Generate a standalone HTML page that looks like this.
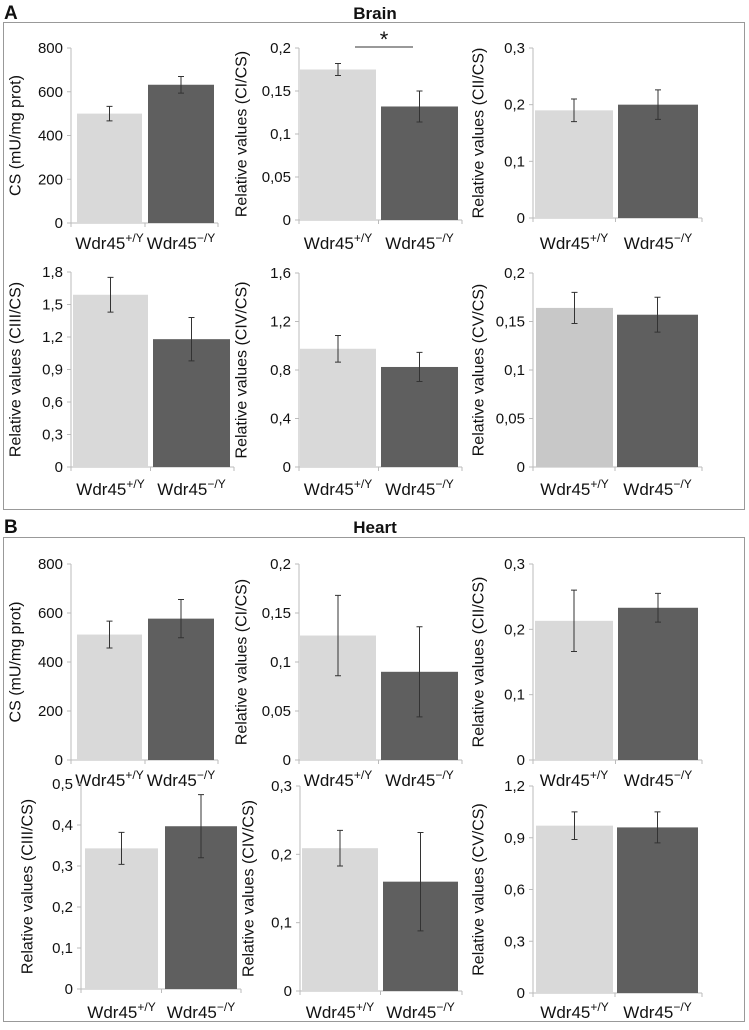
<!DOCTYPE html>
<html><head><meta charset="utf-8">
<style>
body{margin:0;background:#fff;font-family:"Liberation Sans","DejaVu Sans",sans-serif;}
svg text{font-family:"Liberation Sans","DejaVu Sans",sans-serif;fill:#111;}
</style></head>
<body>
<svg id="fig" width="749" height="1025" viewBox="0 0 749 1025" xmlns="http://www.w3.org/2000/svg">
<text x="4" y="19" font-size="19" font-weight="bold">A</text>
<text x="375" y="19" font-size="17" font-weight="bold" text-anchor="middle">Brain</text>
<rect x="3.5" y="22.5" width="741" height="487" fill="none" stroke="#999"/>
<text x="4" y="533" font-size="19" font-weight="bold">B</text>
<text x="375" y="533" font-size="17" font-weight="bold" text-anchor="middle">Heart</text>
<rect x="3.5" y="537.5" width="741" height="484" fill="none" stroke="#999"/>
<g id="charts"></g>
</svg>
<script>
const groups = ["Wdr45+/Y", "Wdr45-/Y"];
const brainCS = [500, 632];       const brainCSErr = [33, 38];
const brainCI = [0.175, 0.132];   const brainCIErr = [0.007, 0.018];
const brainCII = [0.19, 0.2];     const brainCIIErr = [0.02, 0.026];
const brainCIII = [1.59, 1.18];   const brainCIIIErr = [0.16, 0.2];
const brainCIV = [0.975, 0.825];  const brainCIVErr = [0.11, 0.12];
const brainCV = [0.164, 0.157];   const brainCVErr = [0.016, 0.018];
const heartCS = [512, 577];       const heartCSErr = [55, 78];
const heartCI = [0.127, 0.09];    const heartCIErr = [0.041, 0.046];
const heartCII = [0.213, 0.233];  const heartCIIErr = [0.047, 0.022];
const heartCIII = [0.343, 0.397]; const heartCIIIErr = [0.039, 0.077];
const heartCIV = [0.209, 0.16];   const heartCIVErr = [0.026, 0.072];
const heartCV = [0.97, 0.96];     const heartCVErr = [0.08, 0.09];
const ticksCS = ["0","200","400","600","800"];
const ticksCI = ["0","0,05","0,1","0,15","0,2"];
const ticksCII = ["0","0,1","0,2","0,3"];
const ticksBrainCIII = ["0","0,3","0,6","0,9","1,2","1,5","1,8"];
const ticksBrainCIV = ["0","0,4","0,8","1,2","1,6"];
const ticksBrainCV = ["0","0,05","0,1","0,15","0,2"];
const ticksHeartCIII = ["0","0,1","0,2","0,3","0,4","0,5"];
const ticksHeartCIV = ["0","0,1","0,2","0,3"];
const ticksHeartCV = ["0","0,3","0,6","0,9","1,2"];

const NS = "http://www.w3.org/2000/svg";
const root = document.getElementById("charts");
function mk(tag, attrs, parent){const e=document.createElementNS(NS,tag);for(const k in attrs)e.setAttribute(k,attrs[k]);(parent||root).appendChild(e);return e;}

const panels = [
 {id:"brain-cs",vals:brainCS,errs:brainCSErr,ticks:ticksCS,title:"CS (mU/mg prot)",ax:71,top:48,bot:223,b1:[77,142],b2:[148,214],tx:16,lab:241,light:"#d9d9d9"},
 {id:"brain-ci",vals:brainCI,errs:brainCIErr,ticks:ticksCI,title:"Relative values (CI/CS)",ax:299,top:48,bot:220,b1:[300,376],b2:[381,458],tx:242,lab:241,light:"#d9d9d9",star:true},
 {id:"brain-cii",vals:brainCII,errs:brainCIIErr,ticks:ticksCII,title:"Relative values (CII/CS)",ax:533,top:48,bot:218,b1:[535,613],b2:[618,698],tx:479,lab:241,light:"#d9d9d9"},
 {id:"brain-ciii",vals:brainCIII,errs:brainCIIIErr,ticks:ticksBrainCIII,title:"Relative values (CIII/CS)",ax:71,top:272,bot:467,b1:[73,148],b2:[153,230],tx:16,lab:487,light:"#d9d9d9"},
 {id:"brain-civ",vals:brainCIV,errs:brainCIVErr,ticks:ticksBrainCIV,title:"Relative values (CIV/CS)",ax:299,top:273,bot:467,b1:[300,376],b2:[381,458],tx:242,lab:487,light:"#d9d9d9"},
 {id:"brain-cv",vals:brainCV,errs:brainCVErr,ticks:ticksBrainCV,title:"Relative values (CV/CS)",ax:533,top:273,bot:467,b1:[536,613],b2:[617,698],tx:479,lab:487,light:"#c8c8c8"},
 {id:"heart-cs",vals:heartCS,errs:heartCSErr,ticks:ticksCS,title:"CS (mU/mg prot)",ax:71,top:564,bot:760,b1:[77,142],b2:[148,214],tx:16,lab:778,light:"#d9d9d9"},
 {id:"heart-ci",vals:heartCI,errs:heartCIErr,ticks:ticksCI,title:"Relative values (CI/CS)",ax:299,top:564,bot:760,b1:[300,376],b2:[381,458],tx:242,lab:778,light:"#d9d9d9"},
 {id:"heart-cii",vals:heartCII,errs:heartCIIErr,ticks:ticksCII,title:"Relative values (CII/CS)",ax:533,top:564,bot:760,b1:[535,613],b2:[618,698],tx:479,lab:778,light:"#d9d9d9"},
 {id:"heart-ciii",vals:heartCIII,errs:heartCIIIErr,ticks:ticksHeartCIII,title:"Relative values (CIII/CS)",ax:81,top:784,bot:989,b1:[85,158],b2:[165,237],tx:28,lab:1010,light:"#d9d9d9"},
 {id:"heart-civ",vals:heartCIV,errs:heartCIVErr,ticks:ticksHeartCIV,title:"Relative values (CIV/CS)",ax:300,top:786,bot:991,b1:[302,378],b2:[383,458],tx:249,lab:1010,light:"#d9d9d9"},
 {id:"heart-cv",vals:heartCV,errs:heartCVErr,ticks:ticksHeartCV,title:"Relative values (CV/CS)",ax:533,top:786,bot:993,b1:[536,613],b2:[617,698],tx:479,lab:1010,light:"#d9d9d9"}
];

panels.forEach(p=>{
  const g = mk("g",{});
  
  
  const maxV = parseFloat(p.ticks[p.ticks.length-1].replace(",", "."));
  const y = v => p.bot - (v/maxV)*(p.bot-p.top);
  const right = p.b2[1]+4;
  const ya = mk("line",{x1:p.ax,y1:p.top,x2:p.ax,y2:p.bot,stroke:"#bbb"},g);
  
  
  const xa = mk("line",{x1:p.ax-4,y1:p.bot,x2:right,y2:p.bot,stroke:"#bbb"},g);
  
  
  [p.ax, (p.b1[1]+p.b2[0])/2, right].forEach(tx=>mk("line",{x1:tx,y1:p.bot,x2:tx,y2:p.bot+4,stroke:"#bbb"},g));
  p.ticks.forEach(t=>{
    const v = parseFloat(t.replace(",", "."));
    const yy = y(v);
    mk("line",{x1:p.ax-4,y1:yy,x2:p.ax,y2:yy,stroke:"#bbb"},g);
    const tl = mk("text",{x:p.ax-8,y:yy+5,"font-size":"15","text-anchor":"end"},g);
    tl.textContent = t;
    
    
  });
  const yt = mk("text",{x:p.tx,y:(p.top+p.bot)/2,"font-size":"16","text-anchor":"middle",transform:`rotate(-90 ${p.tx} ${(p.top+p.bot)/2})`,"dominant-baseline":"central"},g);
  yt.textContent = p.title;
  
  
  [p.b1,p.b2].forEach((b,i)=>{
    const v = p.vals[i], e = p.errs[i];
    const bar = mk("rect",{x:b[0],y:y(v),width:b[1]-b[0],height:p.bot-y(v),fill:i?"#5f5f5f":p.light},g);
    
    
    const cx = (b[0]+b[1])/2;
    const eb = mk("path",{d:`M${cx},${y(v+e)}V${y(v-e)}M${cx-3},${y(v+e)}H${cx+3}M${cx-3},${y(v-e)}H${cx+3}`,stroke:"#333","stroke-width":"1",fill:"none"},g);
    
    
    const lab = mk("text",{x:cx,y:p.lab+8,"font-size":"17","text-anchor":"middle"},g);
    
    
    const base = mk("tspan",{},lab); base.textContent = "Wdr45";
    const sup = mk("tspan",{"font-size":"12",dy:"-7"},lab); sup.textContent = i ? "\u2212/Y" : "+/Y";
  });
  if (p.star){
    const sl = mk("line",{x1:355,y1:47,x2:413,y2:47,stroke:"#333"},g);
    
    
    const st = mk("text",{x:384,y:47,"font-size":"22","text-anchor":"middle"},g);
    st.textContent = "*";
    
    
  }
});
</script>
</body></html>
